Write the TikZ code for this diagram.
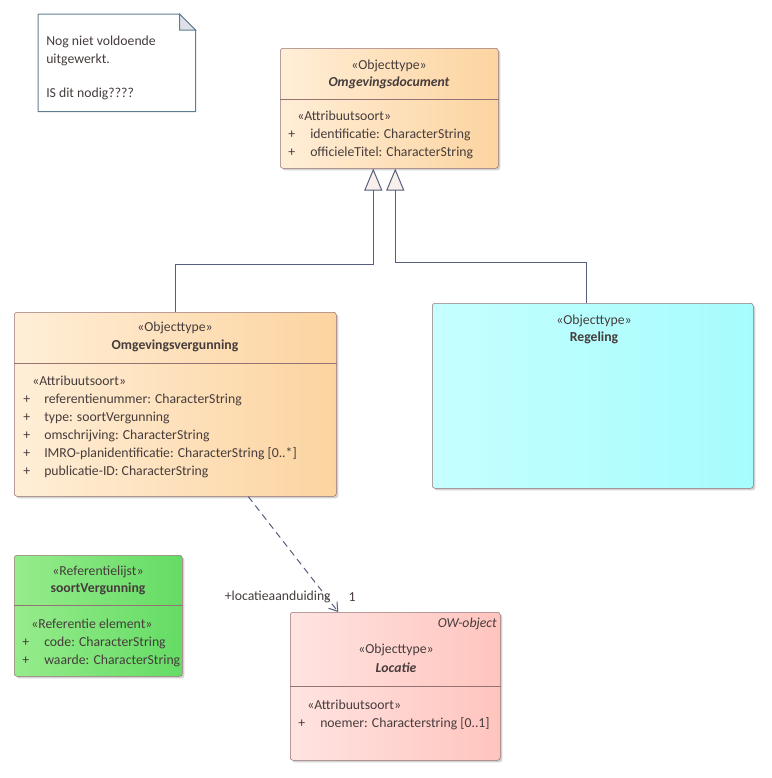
\documentclass[tikz,border=0pt]{standalone}
\usepackage{fontspec}
\setmainfont{Carlito}
\usetikzlibrary{positioning, arrows.meta, shadows}

\definecolor{umlborder}{RGB}{150,115,115}
\definecolor{umltext}{RGB}{70,60,60}
\definecolor{umlline}{RGB}{85,95,125}
\definecolor{genfill}{RGB}{250,240,235}
\definecolor{docL}{RGB}{255,238,215}
\definecolor{docR}{RGB}{252,212,160}
\definecolor{regL}{RGB}{198,255,255}
\definecolor{regR}{RGB}{166,252,252}
\definecolor{refL}{RGB}{150,236,140}
\definecolor{refR}{RGB}{100,220,100}
\definecolor{locL}{RGB}{255,228,225}
\definecolor{locR}{RGB}{255,196,190}
\definecolor{noteborder}{RGB}{95,125,145}
\definecolor{notefold}{RGB}{222,226,232}

\newcommand{\umlfont}{\fontsize{10.3}{13.5}\selectfont}
\newcommand{\attr}[1]{\makebox[16.5pt][l]{+}#1}
\newcommand{\stereo}[1]{\hspace*{6.75pt}#1}

\tikzset{
  umlbox/.style={draw=umlborder, rounded corners=2pt, anchor=north west, inner sep=0pt,
    shading=axis, shading angle=90,
    drop shadow={shadow xshift=1.5pt, shadow yshift=-1.5pt, fill=black!35, opacity=.5}},
  umltxt/.style={font=\umlfont, text=umltext, inner sep=0pt},
  attrs/.style={umltxt, anchor=north west, align=left},
  genline/.style={draw=umlline, line width=0.75pt,
    -{Triangle[width=13.5pt, length=16.5pt, fill=genfill]}},
  assocline/.style={draw=umlline, line width=0.75pt, dash pattern=on 5pt off 3.5pt,
    -{Straight Barb[length=6pt, width=8pt]}}
}

\begin{document}
\begin{tikzpicture}[x=0.75pt, y=-0.75pt]
  \useasboundingbox (0,0) rectangle (771,778);

  % note
  \node (note) [anchor=north west, minimum width=117.75pt, minimum height=72.75pt, inner sep=0pt] at (38,14) {};
  \draw[noteborder, line width=0.75pt, fill=white] (note.north west) -- ([xshift=-12pt]note.north east)
    -- ([yshift=-12pt]note.north east) -- (note.south east) -- (note.south west) -- cycle;
  \draw[noteborder, line width=0.75pt, fill=notefold] ([xshift=-12pt]note.north east)
    -- ([yshift=-12pt]note.north east) -- ([xshift=-12pt, yshift=-12pt]note.north east) -- cycle;
  \node[attrs, font=\fontsize{10.3}{13}\selectfont] (notetxt) at (46,36) {Nog niet voldoende\\uitgewerkt.\\[13pt]IS dit nodig????};

  % boxes
  \node[umlbox, left color=docL, right color=docR, minimum width=163.5pt, minimum height=90pt] (doc) at (280,48) {};
  \node[umlbox, left color=docL, right color=docR, minimum width=241.5pt, minimum height=138pt] (ovg) at (14,312) {};
  \node[umlbox, left color=regL, right color=regR, minimum width=240.75pt, minimum height=138.75pt] (reg) at (432,303) {};
  \node[umlbox, left color=refL, right color=refR, minimum width=126pt, minimum height=90.75pt] (ref) at (14,555) {};
  \node[umlbox, left color=locL, right color=locR, minimum width=157.5pt, minimum height=111pt] (loc) at (290,612) {};

  % compartments
  \draw[umlborder] (doc.west |- 0,99) -- (doc.east |- 0,99);
  \draw[umlborder] (ovg.west |- 0,363) -- (ovg.east |- 0,363);
  \draw[umlborder] (ref.west |- 0,605) -- (ref.east |- 0,605);
  \draw[umlborder] (loc.west |- 0,686) -- (loc.east |- 0,686);

  % Omgevingsdocument
  \node[umltxt] (docst) at (389,66) {«Objecttype»};
  \node[umltxt, font=\umlfont\bfseries\itshape] (docname) at (389,83) {Omgevingsdocument};
  \node[attrs] (docattr) at (288,111) {\stereo{«Attribuutsoort»}\\
    \attr{identificatie: CharacterString}\\
    \attr{officieleTitel: CharacterString}};

  % Omgevingsvergunning
  \node[umltxt] (ovgst) at (175,328) {«Objecttype»};
  \node[umltxt, font=\umlfont\bfseries] (ovgname) at (175,346) {Omgevingsvergunning};
  \node[attrs] (ovgattr) at (23,376) {\stereo{«Attribuutsoort»}\\
    \makebox[15.75pt][l]{+}referentienummer: CharacterString\\
    \makebox[15.75pt][l]{+}type: soortVergunning\\
    \makebox[15.75pt][l]{+}omschrijving: CharacterString\\
    \makebox[15.75pt][l]{+}IMRO-planidentificatie: CharacterString [0..*]\\
    \makebox[15.75pt][l]{+}publicatie-ID: CharacterString};

  % Regeling
  \node[umltxt] (regst) at (594,321) {«Objecttype»};
  \node[umltxt, font=\umlfont\bfseries] (regname) at (594,338) {Regeling};

  % soortVergunning
  \node[umltxt] (refst) at (98,572) {«Referentielijst»};
  \node[umltxt, font=\umlfont\bfseries] (refname) at (98,589) {soortVergunning};
  \node[attrs] (refattr) at (22,619) {\stereo{«Referentie element»}\\
    \attr{code: CharacterString}\\
    \attr{waarde: CharacterString}};

  % Locatie
  \node[umltxt, anchor=east, font=\umlfont\itshape] (locow) at (497,624) {OW-object};
  \node[umltxt] (locst) at (396,650) {«Objecttype»};
  \node[umltxt, font=\umlfont\bfseries\itshape] (locname) at (396,668) {Locatie};
  \node[attrs] (locattr) at (298,700) {\stereo{«Attribuutsoort»}\\
    \attr{noemer: Characterstring [0..1]}};

  % connectors
  \draw[genline] (ovg.north) -- ++(0,-48) -| ([xshift=-12pt]doc.south);
  \draw[genline] ([xshift=-4.875pt]reg.north) -- ++(0,-41) -| ([xshift=4.5pt]doc.south);
  \draw[assocline] ([xshift=54.75pt]ovg.south) -- ([xshift=-42.75pt]loc.north);
  \node[umltxt, anchor=east] (rolename) at (331,597) {+locatieaanduiding};
  \node[umltxt] (mult) at (352,597) {1};
\end{tikzpicture}
\end{document}
